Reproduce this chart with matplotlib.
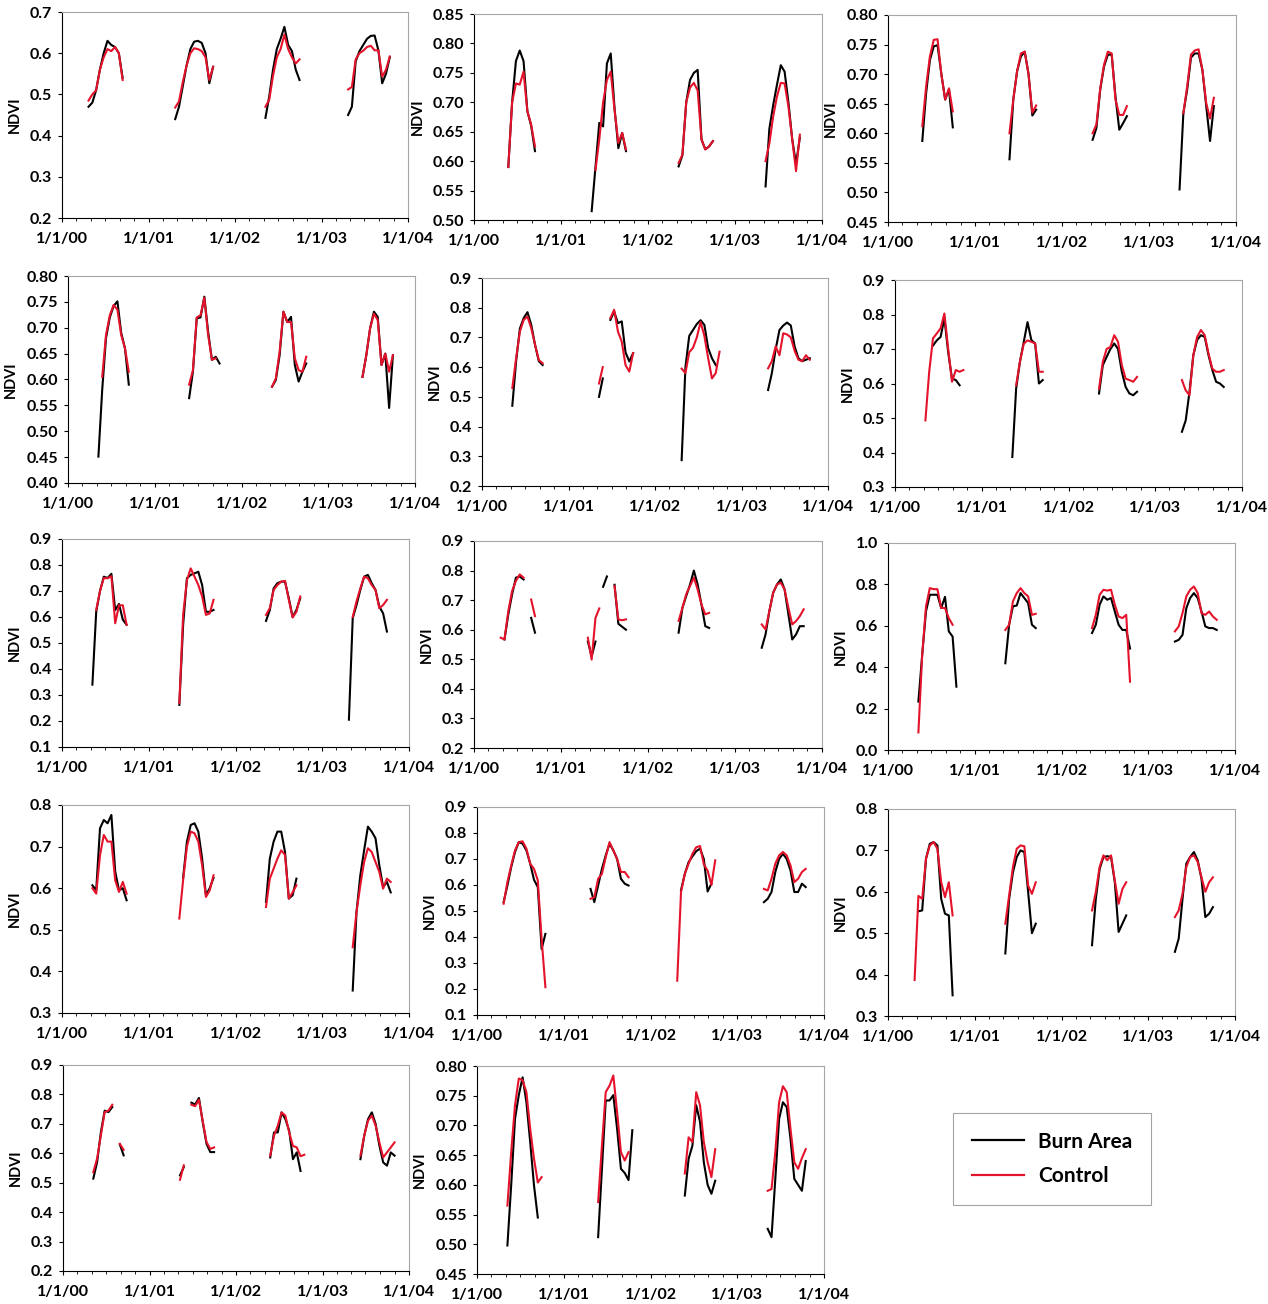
import datetime as dt
import numpy as np
import matplotlib
matplotlib.use("Agg")
import matplotlib.pyplot as plt
import matplotlib.dates as mdates
from matplotlib.ticker import MultipleLocator, FormatStrFormatter
from matplotlib.lines import Line2D

plt.rcParams['font.family'] = ['Lato', 'DejaVu Sans']
plt.rcParams['font.weight'] = 'bold'

N = np.nan
# 16-day composite days of year; each season = (first day of year, values)
DOY = [81, 97, 113, 129, 145, 161, 177, 193, 209, 225, 241, 257, 273, 289, 305]
YEARS = [2000, 2001, 2002, 2003]

p1_burn = [(113, [0.47, 0.48, 0.51, 0.56, 0.60, 0.63, 0.62, 0.615, 0.60, 0.54]),
           (113, [0.44, 0.47, 0.52, 0.57, 0.61, 0.628, 0.63, 0.625, 0.60, 0.527, 0.567]),
           (129, [0.443, 0.495, 0.56, 0.61, 0.635, 0.664, 0.62, 0.605, 0.56, 0.535]),
           (113, [0.45, 0.47, 0.58, 0.605, 0.62, 0.635, 0.642, 0.643, 0.607, 0.527, 0.55, 0.59])]
p1_ctrl = [(113, [0.485, 0.50, 0.51, 0.56, 0.59, 0.61, 0.605, 0.615, 0.60, 0.535]),
           (113, [0.468, 0.483, 0.53, 0.57, 0.60, 0.612, 0.61, 0.605, 0.59, 0.535, 0.567]),
           (129, [0.47, 0.487, 0.545, 0.59, 0.61, 0.645, 0.61, 0.59, 0.575, 0.585]),
           (113, [0.512, 0.518, 0.585, 0.60, 0.606, 0.615, 0.618, 0.607, 0.607, 0.543, 0.56, 0.592])]

p2_burn = [(145, [0.59, 0.70, 0.77, 0.788, 0.77, 0.685, 0.66, 0.617]),
           (129, [0.515, 0.59, 0.665, 0.659, 0.766, 0.783, 0.69, 0.622, 0.648, 0.617]),
           (129, [0.591, 0.61, 0.70, 0.738, 0.75, 0.755, 0.637, 0.62, 0.625, 0.634]),
           (129, [0.557, 0.655, 0.695, 0.73, 0.763, 0.752, 0.70, 0.637, 0.595, 0.64])]
p2_ctrl = [(145, [0.59, 0.70, 0.732, 0.73, 0.752, 0.685, 0.662, 0.625]),
           (145, [0.585, 0.637, 0.70, 0.738, 0.752, 0.687, 0.631, 0.648, 0.62]),
           (129, [0.597, 0.611, 0.70, 0.725, 0.733, 0.72, 0.637, 0.62, 0.625, 0.634]),
           (129, [0.60, 0.63, 0.676, 0.71, 0.733, 0.732, 0.693, 0.637, 0.583, 0.645])]

p3_burn = [(145, [0.587, 0.668, 0.724, 0.747, 0.749, 0.70, 0.657, 0.674, 0.61]),
           (145, [0.556, 0.657, 0.705, 0.73, 0.738, 0.70, 0.63, 0.64]),
           (129, [0.589, 0.609, 0.674, 0.713, 0.733, 0.733, 0.662, 0.606, 0.617, 0.629]),
           (129, [0.505, 0.634, 0.674, 0.728, 0.735, 0.735, 0.707, 0.646, 0.587, 0.646])]
p3_ctrl = [(145, [0.612, 0.679, 0.73, 0.758, 0.759, 0.70, 0.657, 0.676, 0.637]),
           (145, [0.60, 0.657, 0.705, 0.735, 0.738, 0.70, 0.635, 0.647]),
           (129, [0.60, 0.615, 0.676, 0.716, 0.738, 0.735, 0.657, 0.631, 0.631, 0.646]),
           (145, [0.634, 0.679, 0.733, 0.74, 0.742, 0.707, 0.651, 0.625, 0.66])]

p4_burn = [(129, [0.451, 0.58, 0.68, 0.72, 0.742, 0.751, 0.69, 0.66, 0.59]),
           (145, [0.564, 0.615, 0.718, 0.72, 0.76, 0.692, 0.638, 0.644, 0.631]),
           (129, [0.586, 0.599, 0.647, 0.731, 0.711, 0.721, 0.628, 0.596, 0.615, 0.631]),
           (145, [0.605, 0.647, 0.699, 0.731, 0.721, 0.628, 0.65, 0.545, 0.647])]
p4_ctrl = [(145, [0.605, 0.686, 0.724, 0.744, 0.735, 0.686, 0.66, 0.615]),
           (145, [0.59, 0.618, 0.72, 0.724, 0.758, 0.686, 0.638, 0.641]),
           (129, [0.586, 0.602, 0.654, 0.731, 0.711, 0.711, 0.641, 0.618, 0.615, 0.644]),
           (145, [0.605, 0.647, 0.699, 0.727, 0.715, 0.628, 0.65, 0.615, 0.647])]

p5_burn = [(129, [0.47, 0.62, 0.73, 0.765, 0.785, 0.742, 0.675, 0.62, 0.607]),
           (129, [0.50, 0.562, N, 0.759, 0.787, 0.748, 0.754, 0.65, 0.619, 0.647]),
           (113, [0.287, 0.60, 0.705, 0.725, 0.745, 0.758, 0.742, 0.664, 0.63, 0.607]),
           (113, [0.523, 0.58, 0.66, 0.725, 0.74, 0.75, 0.74, 0.67, 0.63, 0.62, 0.625, 0.63])]
p5_ctrl = [(129, [0.53, 0.63, 0.72, 0.759, 0.77, 0.731, 0.675, 0.624, 0.613]),
           (129, [0.545, 0.60, N, 0.765, 0.793, 0.72, 0.686, 0.607, 0.585, 0.647]),
           (113, [0.595, 0.58, 0.65, 0.665, 0.70, 0.752, 0.705, 0.63, 0.562, 0.58, 0.652]),
           (113, [0.596, 0.62, 0.67, 0.64, 0.714, 0.71, 0.70, 0.655, 0.625, 0.62, 0.64, 0.625])]

p6_burn = [(161, [0.71, 0.725, 0.735, 0.79, 0.69, 0.614, 0.61, 0.595]),
           (129, [0.387, 0.585, 0.663, 0.72, 0.778, 0.726, 0.716, 0.60, 0.61]),
           (129, [0.571, 0.653, 0.677, 0.70, 0.716, 0.70, 0.634, 0.59, 0.571, 0.566, 0.576]),
           (113, [0.46, 0.493, 0.576, 0.682, 0.726, 0.74, 0.735, 0.682, 0.639, 0.605, 0.60, 0.59])]
p6_ctrl = [(129, [0.493, 0.634, 0.731, 0.745, 0.76, 0.803, 0.70, 0.605, 0.639, 0.634, 0.639]),
           (145, [0.595, 0.663, 0.715, 0.725, 0.721, 0.716, 0.634, 0.634]),
           (129, [0.585, 0.663, 0.70, 0.706, 0.74, 0.721, 0.653, 0.614, 0.61, 0.605, 0.619]),
           (113, [0.61, 0.58, 0.566, 0.682, 0.735, 0.755, 0.74, 0.687, 0.643, 0.634, 0.634, 0.639])]

p7_burn = [(129, [0.34, 0.62, 0.70, 0.755, 0.75, 0.766, 0.627, 0.65, 0.59, 0.57]),
           (129, [0.262, 0.57, 0.749, 0.762, 0.768, 0.774, 0.723, 0.62, 0.62, 0.627]),
           (129, [0.585, 0.627, 0.71, 0.73, 0.736, 0.736, 0.672, 0.60, 0.627, 0.672]),
           (113, [0.205, 0.595, 0.646, 0.704, 0.755, 0.762, 0.73, 0.704, 0.64, 0.614, 0.544])]
p7_ctrl = [(145, [0.627, 0.70, 0.75, 0.749, 0.757, 0.576, 0.645, 0.645, 0.57]),
           (129, [0.269, 0.608, 0.742, 0.787, 0.755, 0.723, 0.679, 0.608, 0.614, 0.666]),
           (129, [0.608, 0.634, 0.704, 0.723, 0.736, 0.739, 0.666, 0.598, 0.62, 0.679]),
           (129, [0.60, 0.66, 0.71, 0.755, 0.749, 0.723, 0.704, 0.634, 0.646, 0.666])]

p8_burn = [(129, [0.567, 0.652, 0.72, 0.776, 0.78, 0.77, N, 0.64, 0.59]),
           (113, [0.56, 0.51, 0.56, N, 0.745, 0.78, N, 0.752, 0.62, 0.61, 0.60]),
           (129, [0.59, 0.674, 0.714, 0.753, 0.80, 0.753, 0.685, 0.612, 0.606]),
           (113, [0.539, 0.584, 0.663, 0.725, 0.753, 0.77, 0.736, 0.652, 0.567, 0.584, 0.612, 0.612])]
p8_ctrl = [(113, [0.573, 0.567, 0.663, 0.731, 0.765, 0.787, 0.776, N, 0.702, 0.646]),
           (113, [0.573, 0.499, 0.64, 0.672, N, N, N, 0.748, 0.635, 0.632, 0.635]),
           (129, [0.63, 0.674, 0.72, 0.748, 0.776, 0.736, 0.685, 0.652, 0.657]),
           (113, [0.618, 0.601, 0.663, 0.725, 0.753, 0.759, 0.736, 0.674, 0.618, 0.629, 0.646, 0.669])]

p9_burn = [(129, [0.234, 0.46, 0.67, 0.75, 0.75, 0.75, 0.686, 0.74, 0.573, 0.548, 0.306]),
           (129, [0.419, 0.605, 0.694, 0.698, 0.758, 0.734, 0.71, 0.605, 0.589]),
           (129, [0.565, 0.605, 0.702, 0.742, 0.726, 0.734, 0.669, 0.605, 0.58, 0.58, 0.49]),
           (113, [0.524, 0.532, 0.556, 0.685, 0.734, 0.758, 0.734, 0.669, 0.597, 0.589, 0.589, 0.58])]
p9_ctrl = [(129, [0.085, 0.46, 0.694, 0.782, 0.777, 0.777, 0.686, 0.686, 0.637, 0.605]),
           (129, [0.58, 0.605, 0.718, 0.758, 0.782, 0.758, 0.742, 0.653, 0.658]),
           (129, [0.589, 0.653, 0.75, 0.774, 0.77, 0.774, 0.702, 0.645, 0.637, 0.653, 0.33]),
           (113, [0.573, 0.597, 0.661, 0.742, 0.774, 0.79, 0.758, 0.661, 0.653, 0.669, 0.645, 0.629])]

p10_burn = [(129, [0.607, 0.595, 0.744, 0.764, 0.756, 0.776, 0.64, 0.595, 0.60, 0.571]),
            (145, [0.625, 0.712, 0.752, 0.756, 0.736, 0.671, 0.583, 0.60, 0.625]),
            (129, [0.567, 0.671, 0.712, 0.736, 0.736, 0.687, 0.575, 0.583, 0.623]),
            (129, [0.354, 0.543, 0.631, 0.691, 0.748, 0.736, 0.72, 0.655, 0.603, 0.615, 0.59])]
p10_ctrl = [(129, [0.60, 0.587, 0.679, 0.728, 0.712, 0.712, 0.619, 0.591, 0.615, 0.587]),
            (129, [0.527, 0.62, 0.70, 0.736, 0.732, 0.712, 0.655, 0.579, 0.595, 0.631]),
            (129, [0.555, 0.623, 0.647, 0.671, 0.691, 0.68, 0.575, 0.59, 0.607]),
            (129, [0.458, 0.543, 0.607, 0.663, 0.696, 0.687, 0.663, 0.639, 0.599, 0.623, 0.615])]

p11_burn = [(113, [0.534, 0.598, 0.669, 0.727, 0.765, 0.759, 0.733, 0.682, 0.62, 0.592, 0.354, 0.412]),
            (113, [0.585, 0.534, 0.598, 0.662, 0.714, 0.759, 0.733, 0.70, 0.624, 0.605, 0.598]),
            (129, [0.58, 0.643, 0.688, 0.71, 0.73, 0.74, 0.70, 0.575, 0.605]),
            (113, [0.534, 0.547, 0.573, 0.65, 0.70, 0.72, 0.70, 0.656, 0.573, 0.573, 0.605, 0.592])]
p11_ctrl = [(113, [0.528, 0.611, 0.675, 0.733, 0.765, 0.768, 0.74, 0.682, 0.662, 0.618, 0.393, 0.207]),
            (113, [0.547, 0.553, 0.624, 0.643, 0.707, 0.765, 0.733, 0.70, 0.65, 0.65, 0.63]),
            (113, [0.232, 0.573, 0.643, 0.682, 0.72, 0.745, 0.75, 0.68, 0.655, 0.60, 0.695]),
            (113, [0.585, 0.579, 0.624, 0.682, 0.714, 0.727, 0.714, 0.675, 0.611, 0.624, 0.65, 0.662])]

p12_burn = [(129, [0.553, 0.555, 0.68, 0.716, 0.72, 0.712, 0.583, 0.547, 0.543, 0.35]),
            (129, [0.451, 0.583, 0.647, 0.684, 0.70, 0.696, 0.60, 0.50, 0.523]),
            (129, [0.471, 0.583, 0.655, 0.684, 0.686, 0.684, 0.623, 0.503, 0.523, 0.543]),
            (113, [0.455, 0.487, 0.583, 0.668, 0.684, 0.696, 0.676, 0.631, 0.539, 0.547, 0.563])]
p12_ctrl = [(113, [0.387, 0.59, 0.583, 0.68, 0.712, 0.72, 0.704, 0.623, 0.587, 0.623, 0.543]),
            (129, [0.523, 0.591, 0.66, 0.704, 0.712, 0.71, 0.615, 0.595, 0.623]),
            (129, [0.555, 0.60, 0.66, 0.688, 0.676, 0.688, 0.627, 0.571, 0.607, 0.623]),
            (113, [0.539, 0.555, 0.595, 0.66, 0.684, 0.688, 0.672, 0.635, 0.60, 0.623, 0.635])]

p13_burn = [(129, [0.514, 0.57, 0.672, 0.745, 0.74, 0.757, N, 0.63, 0.593]),
            (129, [0.525, 0.553, N, 0.772, 0.766, 0.788, 0.706, 0.632, 0.604, 0.604]),
            (145, [0.586, 0.671, 0.671, 0.739, 0.716, 0.677, 0.58, 0.603, 0.54]),
            (161, [0.58, 0.66, 0.716, 0.739, 0.70, 0.626, 0.569, 0.558, 0.603, 0.592])]
p13_ctrl = [(129, [0.536, 0.582, 0.661, 0.74, 0.745, 0.765, N, 0.632, 0.612]),
            (129, [0.51, 0.559, N, 0.765, 0.76, 0.782, 0.71, 0.638, 0.615, 0.62]),
            (145, [0.592, 0.66, 0.694, 0.739, 0.728, 0.671, 0.625, 0.62, 0.59, 0.595]),
            (161, [0.592, 0.66, 0.711, 0.728, 0.694, 0.637, 0.586, 0.603, 0.62, 0.637])]

p14_burn = [(129, [0.498, 0.60, 0.711, 0.751, 0.781, 0.739, 0.672, 0.599, 0.545]),
            (145, [0.512, 0.627, 0.742, 0.742, 0.751, 0.694, 0.627, 0.62, 0.608, 0.692]),
            (145, [0.582, 0.644, 0.666, 0.734, 0.706, 0.638, 0.60, 0.585, 0.607]),
            (129, [0.526, 0.512, 0.61, 0.711, 0.739, 0.731, 0.677, 0.61, 0.60, 0.59, 0.64])]
p14_ctrl = [(129, [0.565, 0.655, 0.734, 0.779, 0.776, 0.756, 0.694, 0.644, 0.604, 0.613]),
            (145, [0.571, 0.666, 0.756, 0.767, 0.784, 0.722, 0.655, 0.641, 0.655]),
            (145, [0.619, 0.68, 0.672, 0.756, 0.734, 0.672, 0.638, 0.613, 0.66]),
            (129, [0.59, 0.593, 0.655, 0.739, 0.766, 0.756, 0.694, 0.638, 0.627, 0.645, 0.66])]

# y axis: (min, max, step, decimals)
y_axes = [(0.2, 0.7, 0.1, 1), (0.50, 0.85, 0.05, 2), (0.45, 0.80, 0.05, 2),
          (0.40, 0.80, 0.05, 2), (0.2, 0.9, 0.1, 1), (0.3, 0.9, 0.1, 1),
          (0.1, 0.9, 0.1, 1), (0.2, 0.9, 0.1, 1), (0.0, 1.0, 0.2, 1),
          (0.3, 0.8, 0.1, 1), (0.1, 0.9, 0.1, 1), (0.3, 0.8, 0.1, 1),
          (0.2, 0.9, 0.1, 1), (0.45, 0.80, 0.05, 2)]

burn_all = [p1_burn, p2_burn, p3_burn, p4_burn, p5_burn, p6_burn, p7_burn,
            p8_burn, p9_burn, p10_burn, p11_burn, p12_burn, p13_burn, p14_burn]
ctrl_all = [p1_ctrl, p2_ctrl, p3_ctrl, p4_ctrl, p5_ctrl, p6_ctrl, p7_ctrl,
            p8_ctrl, p9_ctrl, p10_ctrl, p11_ctrl, p12_ctrl, p13_ctrl, p14_ctrl]

# plot boxes in pixels: left, top, right, bottom
boxes = [(62, 12, 408, 218), (474, 14, 822, 220), (888, 15, 1236, 222),
         (68, 276, 415, 483), (482, 278, 828, 486), (895, 280, 1242, 487),
         (62, 539, 409, 747), (474, 541, 822, 748), (888, 543, 1235, 750),
         (62, 805, 409, 1013), (477, 807, 824, 1015), (888, 809, 1235, 1016),
         (63, 1065, 409, 1271), (477, 1066, 824, 1274)]

W, H = 1268, 1304
BLACK = "#000000"
RED = "#e4132b"


def season_xy(year, first, vals):
    i = DOY.index(first)
    days = DOY[i:i + len(vals)]
    x = [mdates.date2num(dt.date(year, 1, 1) + dt.timedelta(days=d - 1)) for d in days]
    return x, vals


fig = plt.figure(figsize=(W / 100, H / 100), dpi=100)

for k in range(14):
    l, t, r, b = boxes[k]
    ax = fig.add_axes([l / W, 1 - b / H, (r - l) / W, (b - t) / H])
    for yr, (first, vals) in zip(YEARS, burn_all[k]):
        x, y = season_xy(yr, first, vals)
        ax.plot(x, y, color=BLACK, lw=1.5)
    for yr, (first, vals) in zip(YEARS, ctrl_all[k]):
        x, y = season_xy(yr, first, vals)
        ax.plot(x, y, color=RED, lw=1.5)

    ymin, ymax, step, dec = y_axes[k]
    ax.set_ylim(ymin, ymax)
    ax.yaxis.set_major_locator(MultipleLocator(step))
    ax.yaxis.set_major_formatter(FormatStrFormatter("%%.%df" % dec))
    ax.set_xlim(mdates.date2num(dt.date(2000, 1, 1)), mdates.date2num(dt.date(2004, 1, 1)))
    ax.xaxis.set_major_locator(mdates.YearLocator())
    ax.xaxis.set_major_formatter(mdates.DateFormatter("%-m/%-d/%y"))
    ax.xaxis.set_minor_locator(mdates.MonthLocator(bymonth=[3, 5, 7, 9, 11]))
    ax.tick_params(axis="both", which="major", labelsize=11.5, length=3, width=0.8, pad=4)
    ax.tick_params(axis="x", which="major", pad=7)
    ax.tick_params(axis="x", which="minor", length=2, width=0.6)
    for lab in ax.get_xticklabels() + ax.get_yticklabels():
        lab.set_fontweight("bold")
    ax.set_ylabel("NDVI", fontsize=10.5, fontweight="bold", labelpad=6)
    ax.spines["left"].set_color("#000000")
    ax.spines["bottom"].set_color("#000000")
    ax.spines["left"].set_linewidth(0.8)
    ax.spines["bottom"].set_linewidth(0.8)
    for s in ("top", "right"):
        ax.spines[s].set_color("#a6a6a6")
        ax.spines[s].set_linewidth(0.8)

handles = [Line2D([], [], color=BLACK, lw=1.6), Line2D([], [], color=RED, lw=1.6)]
leg = fig.legend(handles, ["Burn Area", "Control"], loc="center",
                 bbox_to_anchor=(1052 / W, 1 - 1159 / H), frameon=True,
                 fancybox=False, edgecolor="#8c8c8c", handlelength=2.5,
                 borderpad=0.9, labelspacing=0.7, handletextpad=0.7,
                 prop={"size": 15, "weight": "bold"})
leg.get_frame().set_linewidth(0.8)

fig.savefig("out.png", dpi=100)
